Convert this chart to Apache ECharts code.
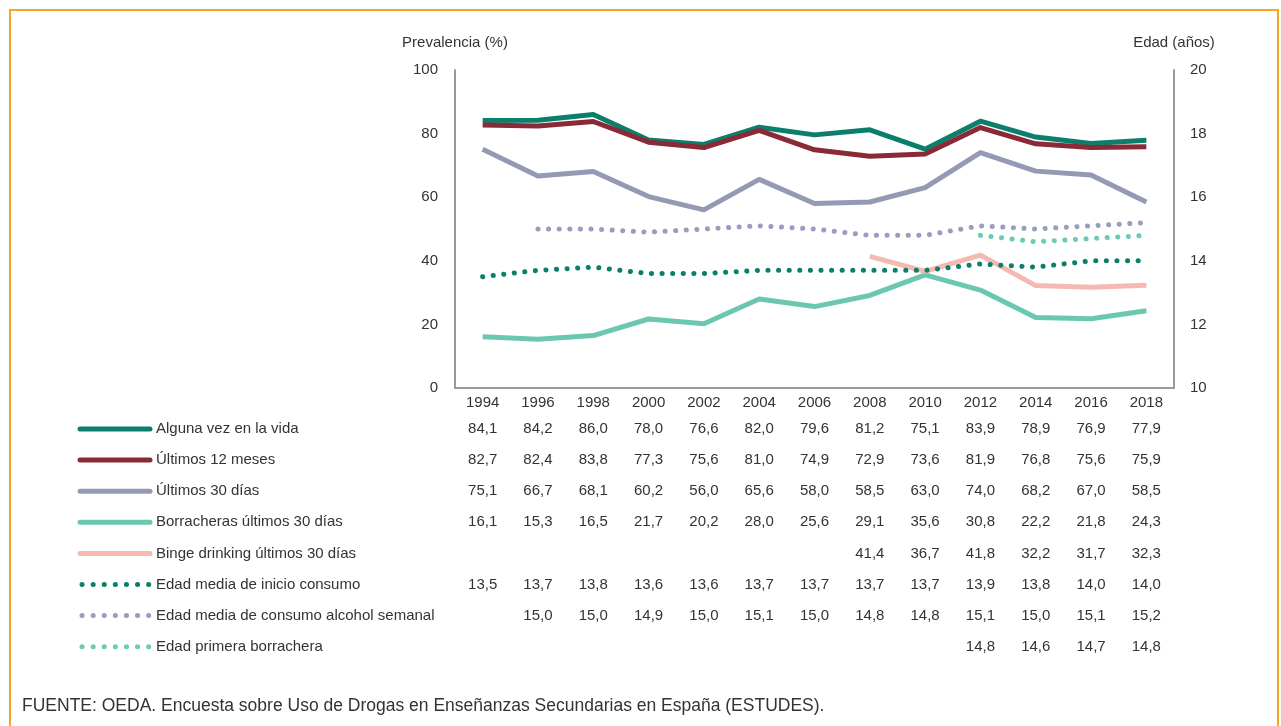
<!DOCTYPE html>
<html>
<head>
<meta charset="utf-8">
<script src="https://cdn.jsdelivr.net/npm/echarts@6/dist/echarts.min.js"></script>
<style>
  html, body { margin: 0; padding: 0; background: #fff; }
  #chart { width: 1281px; height: 726px; }
</style>
</head>
<body>
<div id="chart"></div>
<script>
// datos
var years = ['1994', '1996', '1998', '2000', '2002', '2004', '2006', '2008', '2010', '2012', '2014', '2016', '2018'];
var algunaVez = [84.1, 84.2, 86.0, 78.0, 76.6, 82.0, 79.6, 81.2, 75.1, 83.9, 78.9, 76.9, 77.9];
var ultimos12 = [82.7, 82.4, 83.8, 77.3, 75.6, 81.0, 74.9, 72.9, 73.6, 81.9, 76.8, 75.6, 75.9];
var ultimos30 = [75.1, 66.7, 68.1, 60.2, 56.0, 65.6, 58.0, 58.5, 63.0, 74.0, 68.2, 67.0, 58.5];
var borracheras30 = [16.1, 15.3, 16.5, 21.7, 20.2, 28.0, 25.6, 29.1, 35.6, 30.8, 22.2, 21.8, 24.3];
var binge30 = [null, null, null, null, null, null, null, 41.4, 36.7, 41.8, 32.2, 31.7, 32.3];
var edadInicio = [13.5, 13.7, 13.8, 13.6, 13.6, 13.7, 13.7, 13.7, 13.7, 13.9, 13.8, 14.0, 14.0];
var edadSemanal = [null, 15.0, 15.0, 14.9, 15.0, 15.1, 15.0, 14.8, 14.8, 15.1, 15.0, 15.1, 15.2];
var edadBorrachera = [null, null, null, null, null, null, null, null, null, 14.8, 14.6, 14.7, 14.8];
var leftTicks = [0, 100, 20];
var rightTicks = [10, 20, 2];

var font = 'Liberation Sans, Arial, sans-serif';
var txt = '#333';

var rows = [
  { name: 'Alguna vez en la vida', data: algunaVez, color: '#0b7f6b', dotted: false, axis: 0 },
  { name: 'Últimos 12 meses', data: ultimos12, color: '#8a2a36', dotted: false, axis: 0 },
  { name: 'Últimos 30 días', data: ultimos30, color: '#9499b4', dotted: false, axis: 0 },
  { name: 'Borracheras últimos 30 días', data: borracheras30, color: '#6cc7b1', dotted: false, axis: 0 },
  { name: 'Binge drinking últimos 30 días', data: binge30, color: '#f6b9b1', dotted: false, axis: 0 },
  { name: 'Edad media de inicio consumo', data: edadInicio, color: '#0b7f6b', dotted: true, axis: 1 },
  { name: 'Edad media de consumo alcohol semanal', data: edadSemanal, color: '#9a9cc0', dotted: true, axis: 1 },
  { name: 'Edad primera borrachera', data: edadBorrachera, color: '#6ccbb4', dotted: true, axis: 1 }
];

var myChart = echarts.init(document.getElementById('chart'));

var series = rows.map(function(r) {
  return {
    name: r.name,
    type: 'line',
    yAxisIndex: r.axis,
    data: r.data,
    symbol: 'none',
    silent: true,
    z: r.dotted ? 3 : 2,
    lineStyle: r.dotted
      ? { color: r.color, width: 5, type: [0.1, 10.5], cap: 'round' }
      : { color: r.color, width: 5, join: 'round' }
  };
});

var option = {
  backgroundColor: '#fff',
  animation: false,
  textStyle: { fontFamily: font },
  grid: { left: 455, right: 107, top: 70, bottom: 338 },
  xAxis: {
    type: 'category',
    data: years,
    axisLine: { lineStyle: { color: '#9a9a9a', width: 2 } },
    axisTick: { show: false },
    axisLabel: { color: txt, fontSize: 15, margin: 7 }
  },
  yAxis: [
    {
      type: 'value',
      min: leftTicks[0], max: leftTicks[1], interval: leftTicks[2],
      name: 'Prevalencia (%)',
      nameLocation: 'end',
      nameGap: 20,
      nameTextStyle: { color: txt, fontSize: 15, align: 'center' },
      axisLine: { show: true, lineStyle: { color: '#9a9a9a', width: 2 } },
      axisTick: { show: false },
      splitLine: { show: false },
      axisLabel: { color: txt, fontSize: 15, margin: 17 }
    },
    {
      type: 'value',
      position: 'right',
      min: rightTicks[0], max: rightTicks[1], interval: rightTicks[2],
      name: 'Edad (años)',
      nameLocation: 'end',
      nameGap: 20,
      nameTextStyle: { color: txt, fontSize: 15, align: 'center' },
      axisLine: { show: true, lineStyle: { color: '#9a9a9a', width: 2 } },
      axisTick: { show: false },
      splitLine: { show: false },
      axisLabel: { color: txt, fontSize: 15, margin: 16 }
    }
  ],
  series: series
};

myChart.setOption(option);

// tabla + leyenda debajo del eje
function fmt(v) { return v.toFixed(1).replace('.', ','); }

var rowTop = 429, rowStep = 31.1;
var gfx = [
  {
    type: 'rect', silent: true,
    shape: { x: 10, y: 10, width: 1268, height: 760 },
    style: { fill: null, stroke: '#f5a623', lineWidth: 2 }
  },
  {
    type: 'text', left: 22, top: 697, silent: true,
    style: { text: 'FUENTE: OEDA. Encuesta sobre Uso de Drogas en Enseñanzas Secundarias en España (ESTUDES).', fill: txt, font: '17.5px ' + font }
  }
];
rows.forEach(function(r, i) {
  var y = rowTop + i * rowStep;
  gfx.push({
    type: 'line', silent: true,
    shape: { x1: r.dotted ? 82 : 80, y1: y, x2: 150, y2: y },
    style: r.dotted
      ? { stroke: r.color, lineWidth: 5, lineDash: [0.1, 11], lineCap: 'round' }
      : { stroke: r.color, lineWidth: 5, lineCap: 'round' }
  });
  gfx.push({
    type: 'text', silent: true, x: 156, y: y,
    style: { text: r.name, fill: txt, font: '15px ' + font, textVerticalAlign: 'middle' }
  });
  r.data.forEach(function(v, j) {
    if (v == null) return;
    var x = myChart.convertToPixel({ xAxisIndex: 0 }, years[j]);
    gfx.push({
      type: 'text', silent: true, x: x, y: y,
      style: { text: fmt(v), fill: txt, font: '15px ' + font, textAlign: 'center', textVerticalAlign: 'middle' }
    });
  });
});

myChart.setOption({ graphic: gfx });

window.addEventListener('resize', function() {
  myChart.resize();
});
</script>
</body>
</html>
